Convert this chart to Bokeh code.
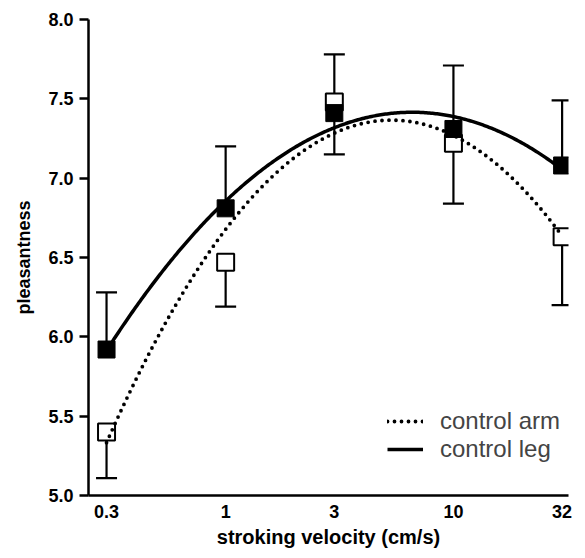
import numpy as np
from bokeh.plotting import figure
from bokeh.models import (Range1d, FixedTicker, PrintfTickFormatter, Whisker, TeeHead,
                          ColumnDataSource, Legend, LegendItem)
from bokeh.embed import file_html
from bokeh.resources import INLINE

# ---- data ----
velocity = [0.3, 1, 3, 10, 30]
x_tick_labels = ["0.3", "1", "3", "10", "32"]
arm_mean = [5.40, 6.47, 7.48, 7.22, 6.63]
arm_lower = [5.11, 6.19, 7.15, 6.84, 6.20]
leg_mean = [5.92, 6.81, 7.41, 7.31, 7.08]
leg_upper = [6.28, 7.20, 7.78, 7.71, 7.49]
y_ticks = [5.0, 5.5, 6.0, 6.5, 7.0, 7.5, 8.0]

FONT = "Liberation Sans"

p = figure(width=577, height=550, x_axis_type="log", output_backend="svg",
           toolbar_location=None, x_range=Range1d(0.25, 32), y_range=Range1d(5.0, 8.0),
           min_border_left=88, min_border_right=9, min_border_top=19, min_border_bottom=53)
p.outline_line_color = None
p.grid.visible = False
p.background_fill_color = "white"

# quadratic fits in log10(velocity)
lv = np.log10(velocity)
xs = np.logspace(np.log10(velocity[0]), np.log10(velocity[-1]), 300)
arm_fit = np.polyval(np.polyfit(lv, arm_mean, 2), np.log10(xs))
leg_fit = np.polyval(np.polyfit(lv, leg_mean, 2), np.log10(xs))

src = ColumnDataSource(dict(v=velocity, am=arm_mean, al=arm_lower, lm=leg_mean, lu=leg_upper))

# error bars
p.add_layout(Whisker(source=src, base="v", lower="al", upper="am", dimension="height",
                     line_width=2.2, line_color="black",
                     lower_head=TeeHead(size=21, line_width=2.2, line_color="black"),
                     upper_head=None))
p.add_layout(Whisker(source=src, base="v", lower="lm", upper="lu", dimension="height",
                     line_width=2.2, line_color="black",
                     upper_head=TeeHead(size=21, line_width=2.2, line_color="black"),
                     lower_head=None))

# markers
p.scatter("v", "am", source=src, marker="square", size=17, fill_color="white",
          line_color="black", line_width=2)
p.scatter("v", "lm", source=src, marker="square", size=17, fill_color="black",
          line_color="black", line_width=1)

# fitted curves
r_arm = p.line(xs, arm_fit, line_color="black", line_width=3.8, line_dash="0 7",
               line_cap="round")
r_leg = p.line(xs, leg_fit, line_color="black", line_width=3.5)

legend = Legend(items=[LegendItem(label="control arm", renderers=[r_arm]),
                       LegendItem(label="control leg", renderers=[r_leg])],
                location=(299, 32), orientation="vertical",
                border_line_color=None, background_fill_alpha=0,
                label_text_font=FONT, label_text_font_size="24px",
                glyph_width=36, glyph_height=20, label_standoff=17,
                spacing=-6, padding=0, margin=0, label_height=20)
p.add_layout(legend, "center")

# axes
xa = p.xaxis[0]
xa.ticker = FixedTicker(ticks=velocity)
xa.major_label_overrides = {v: t for v, t in zip(velocity, x_tick_labels)}
xa.major_tick_out = 0
xa.major_tick_in = 0
xa.minor_tick_out = 0
xa.minor_tick_in = 0
xa.axis_line_width = 2.5
xa.major_label_standoff = 9
xa.axis_label = "stroking velocity (cm/s)"
xa.axis_label_text_font_size = "20px"
xa.axis_label_standoff = 5

ya = p.yaxis[0]
ya.ticker = FixedTicker(ticks=y_ticks)
ya.formatter = PrintfTickFormatter(format="%.1f")
ya.major_tick_out = 9
ya.major_tick_in = 0
ya.minor_tick_out = 0
ya.minor_tick_in = 0
ya.axis_line_width = 2.5
ya.major_tick_line_width = 2.5
ya.major_label_standoff = 6
ya.axis_label = "pleasantness"
ya.axis_label_text_font_size = "18px"
ya.axis_label_standoff = 11

for ax in (xa, ya):
    ax.axis_line_color = "black"
    ax.major_tick_line_color = "black"
    ax.major_label_text_font = FONT
    ax.major_label_text_font_style = "bold"
    ax.major_label_text_font_size = "18px"
    ax.major_label_text_color = "black"
    ax.axis_label_text_font = FONT
    ax.axis_label_text_font_style = "bold"
    ax.axis_label_text_color = "black"

open("out.html", "w").write(file_html(p, INLINE))
